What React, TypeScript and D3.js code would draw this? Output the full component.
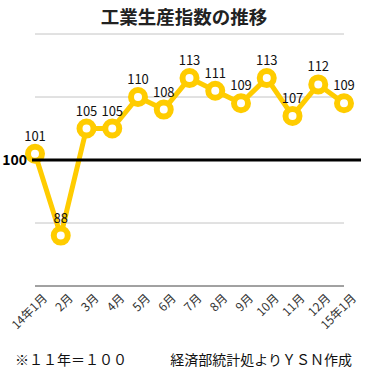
import { useEffect, useRef } from "react";
import * as d3 from "d3";

const months = ["14年1月", "2月", "3月", "4月", "5月", "6月", "7月", "8月", "9月", "10月", "11月", "12月", "15年1月"];
const values = [101, 88, 105, 105, 110, 108, 113, 111, 109, 113, 107, 112, 109];
const gridTicks = [80, 90, 110, 120];
const baseValue = 100;

const W = 373;
const H = 374;
const yellow = "#FFCC00";
const font = "'Noto Sans CJK JP', 'Noto Sans', sans-serif";

export default function App() {
  const svgRef = useRef<SVGSVGElement>(null);

  useEffect(() => {
    document.body.style.margin = "0";
    const svg = d3.select(svgRef.current);
    svg.selectAll("*").remove();

    const x = d3.scalePoint<string>().domain(months).range([35, 344]);
    const y = d3.scaleLinear().domain([80, 120]).range([286, 34]);

    // title
    svg
      .append("text")
      .attr("x", 184)
      .attr("y", 24)
      .attr("text-anchor", "middle")
      .attr("font-family", font)
      .attr("font-size", 18.5)
      .attr("font-weight", "bold")
      .attr("fill", "#222")
      .text("工業生産指数の推移");

    // grid lines
    svg
      .append("g")
      .selectAll("line")
      .data(gridTicks)
      .enter()
      .append("line")
      .attr("x1", 35)
      .attr("x2", 344)
      .attr("y1", (d) => y(d))
      .attr("y2", (d) => y(d))
      .attr("stroke", (d) => (d === 80 ? "#444" : "#c4c4c4"))
      .attr("stroke-width", 1);

    const line = d3
      .line<number>()
      .x((d, i) => x(months[i]) as number)
      .y((d) => y(d));

    svg
      .append("path")
      .datum(values)
      .attr("fill", "none")
      .attr("stroke", yellow)
      .attr("stroke-width", 5)
      .attr("stroke-linejoin", "round")
      .attr("d", line);

    svg
      .append("g")
      .selectAll("circle")
      .data(values)
      .enter()
      .append("circle")
      .attr("cx", (d, i) => x(months[i]) as number)
      .attr("cy", (d) => y(d))
      .attr("r", 7)
      .attr("fill", "#fff")
      .attr("stroke", yellow)
      .attr("stroke-width", 6);

    // base line at 100
    svg
      .append("line")
      .attr("x1", 32)
      .attr("x2", 361)
      .attr("y1", y(baseValue))
      .attr("y2", y(baseValue))
      .attr("stroke", "#000")
      .attr("stroke-width", 3);

    svg
      .append("text")
      .attr("x", 27)
      .attr("y", y(baseValue) + 5)
      .attr("text-anchor", "end")
      .attr("font-family", font)
      .attr("font-size", 14)
      .attr("font-weight", "bold")
      .text(String(baseValue));

    // value labels
    svg
      .append("g")
      .selectAll("text")
      .data(values)
      .enter()
      .append("text")
      .attr("x", (d, i) => x(months[i]) as number)
      .attr("y", (d) => y(d) - 13)
      .attr("text-anchor", "middle")
      .attr("font-family", font)
      .attr("font-size", 13)
      .attr("fill", "#111")
      .text((d) => d);

    // x labels
    svg
      .append("g")
      .selectAll("text")
      .data(months)
      .enter()
      .append("text")
      .attr("transform", (d) => `translate(${(x(d) as number) + 13},${299}) rotate(-45)`)
      .attr("text-anchor", "end")
      .attr("font-family", font)
      .attr("font-size", 12)
      .attr("fill", "#333")
      .text((d) => d);

    // footnote
    svg
      .append("text")
      .attr("x", 15)
      .attr("y", 365)
      .attr("font-family", font)
      .attr("font-size", 14)
      .attr("fill", "#111")
      .text("※１１年＝１００");

    svg
      .append("text")
      .attr("x", 352)
      .attr("y", 365)
      .attr("text-anchor", "end")
      .attr("font-family", font)
      .attr("font-size", 14)
      .attr("fill", "#111")
      .text("経済部統計処よりＹＳＮ作成");
  }, []);

  return <svg ref={svgRef} width={W} height={H} style={{ display: "block", background: "#fff" }} />;
}
